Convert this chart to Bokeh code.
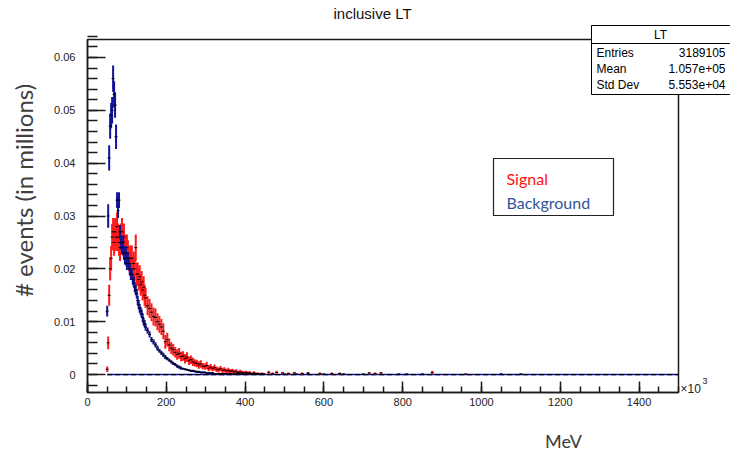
import math
import numpy as np
from bokeh.plotting import figure
from bokeh.models import (Range1d, FixedTicker, CustomJSTickFormatter, Label,
                          BoxAnnotation, ColumnDataSource, LinearAxis)
from bokeh.embed import file_html
from bokeh.resources import INLINE

# ---------------- data (x in units of 10^3 MeV) ----------------
fine_x = np.arange(50.0, 150.0, 2.5)      # 40 bin centres
coarse_x = np.arange(152.5, 450.0, 5.0)   # 60 bin centres

signal_fine = [0.001, 0.006, 0.015, 0.020, 0.022, 0.026, 0.027, 0.025, 0.027, 0.026,
               0.028, 0.026, 0.025, 0.024, 0.026, 0.027, 0.025, 0.026, 0.024, 0.023,
               0.024, 0.023, 0.022, 0.021, 0.022, 0.022, 0.020, 0.021, 0.020, 0.024,
               0.019, 0.019, 0.018, 0.0185, 0.017, 0.0175, 0.016, 0.0165, 0.015, 0.0145]
signal_fine_err = [0.0005, 0.0012, 0.0020, 0.0022, 0.0023, 0.0025, 0.0026, 0.0025, 0.0026, 0.0026,
                   0.0027, 0.0026, 0.0025, 0.0025, 0.0026, 0.0026, 0.0025, 0.0026, 0.0025, 0.0024,
                   0.0025, 0.0024, 0.0024, 0.0023, 0.0024, 0.0024, 0.0023, 0.0023, 0.0023, 0.0025,
                   0.0022, 0.0022, 0.0021, 0.0022, 0.0021, 0.0021, 0.0020, 0.0021, 0.0020, 0.0019]
signal_coarse = [0.0130, 0.0125, 0.0118, 0.0110, 0.0108, 0.0100, 0.0095, 0.0090, 0.0082, 0.0062,
                 0.0066, 0.0056, 0.0050, 0.0047, 0.0042, 0.0038, 0.0040, 0.0034, 0.0035, 0.0030,
                 0.0033, 0.0026, 0.0028, 0.0024, 0.0022, 0.0021, 0.0018, 0.0020, 0.0016, 0.0015,
                 0.0017, 0.0012, 0.0014, 0.0011, 0.0013, 0.0010, 0.0009, 0.0011, 0.0008, 0.0009,
                 0.0007, 0.0008, 0.0006, 0.0007, 0.0005, 0.0006, 0.0004, 0.0005, 0.0004, 0.0003,
                 0.0004, 0.0003, 0.0003, 0.0002, 0.0003, 0.0002, 0.0002, 0.0001, 0.0002, 0.0001]
signal_coarse_err = [0.0018, 0.0018, 0.0017, 0.0017, 0.0017, 0.0016, 0.0016, 0.0015, 0.0015, 0.0013,
                     0.0013, 0.0012, 0.0011, 0.0011, 0.0010, 0.0010, 0.0010, 0.0009, 0.0009, 0.0009,
                     0.0009, 0.0008, 0.0008, 0.0008, 0.0007, 0.0007, 0.0007, 0.0007, 0.0006, 0.0006,
                     0.0007, 0.0006, 0.0006, 0.0005, 0.0006, 0.0005, 0.0005, 0.0005, 0.0005, 0.0005,
                     0.0004, 0.0005, 0.0004, 0.0004, 0.0004, 0.0004, 0.0003, 0.0004, 0.0003, 0.0003,
                     0.0003, 0.0003, 0.0003, 0.0002, 0.0003, 0.0002, 0.0002, 0.0002, 0.0002, 0.0002]

background_fine = [0.012, 0.030, 0.041, 0.047, 0.049, 0.050, 0.056, 0.053, 0.051, 0.045,
                   0.033, 0.031, 0.033, 0.027, 0.025, 0.024, 0.025, 0.023, 0.022, 0.023,
                   0.021, 0.022, 0.021, 0.020, 0.019, 0.019, 0.018, 0.0175, 0.0165, 0.016,
                   0.0153, 0.014, 0.0132, 0.0125, 0.012, 0.0115, 0.0108, 0.010, 0.0096, 0.009]
background_fine_err = [0.0010, 0.0022, 0.0024, 0.0024, 0.0024, 0.0025, 0.0025, 0.0025, 0.0024, 0.0023,
                       0.0015, 0.0014, 0.0015, 0.0013, 0.0013, 0.0013, 0.0013, 0.0013, 0.0012, 0.0013,
                       0.0012, 0.0012, 0.0012, 0.0011, 0.0011, 0.0011, 0.0010, 0.0010, 0.0010, 0.0010,
                       0.0009, 0.0009, 0.0009, 0.0008, 0.0008, 0.0008, 0.0008, 0.0007, 0.0007, 0.0007]
background_coarse = [0.0083, 0.0076, 0.0066, 0.0062, 0.0056, 0.0050, 0.0045, 0.0041, 0.0037, 0.0033,
                     0.0030, 0.0027, 0.0024, 0.0021, 0.0019, 0.0016, 0.0014, 0.0012, 0.0011, 0.0010,
                     0.0009, 0.0008, 0.0007, 0.0007, 0.0006, 0.0005, 0.0005, 0.0004, 0.0004, 0.0004,
                     0.0003, 0.0003, 0.0003, 0.0003, 0.0002, 0.0002, 0.0002, 0.0002, 0.0002, 0.0002,
                     0.0002, 0.0001, 0.0002, 0.0001, 0.0001, 0.0001, 0.0002, 0.0001, 0.0001, 0.0001,
                     0.0001, 0.0001, 0.0001, 0.0001, 0.0001, 0.0000, 0.0001, 0.0001, 0.0000, 0.0001]
background_coarse_err = [0.0006, 0.0006, 0.0005, 0.0005, 0.0005, 0.0005, 0.0004, 0.0004, 0.0004, 0.0004,
                         0.0003, 0.0003, 0.0003, 0.0003, 0.0003, 0.0003, 0.0003, 0.0003, 0.0002, 0.0002,
                         0.0002, 0.0002, 0.0002, 0.0002, 0.0002, 0.0002, 0.0002, 0.0002, 0.0002, 0.0002,
                         0.0002, 0.0002, 0.0002, 0.0002, 0.0001, 0.0001, 0.0001, 0.0001, 0.0001, 0.0001,
                         0.0001, 0.0001, 0.0001, 0.0001, 0.0001, 0.0001, 0.0001, 0.0001, 0.0001, 0.0001,
                         0.0001, 0.0001, 0.0001, 0.0001, 0.0001, 0.0001, 0.0001, 0.0001, 0.0001, 0.0001]

signal_tail_x = [460, 470, 480, 495, 510, 525, 545, 560, 590, 620, 640, 715, 730, 745, 875, 960]
signal_tail = [0.0004, 0.0002, 0.0004, 0.0003, 0.0002, 0.0003, 0.0002, 0.0003,
               0.0002, 0.0002, 0.0002, 0.0003, 0.0002, 0.0003, 0.0004, 0.0001]
signal_tail_err = [0.0003, 0.0002, 0.0003, 0.0002, 0.0002, 0.0002, 0.0002, 0.0002,
                   0.0002, 0.0002, 0.0002, 0.0002, 0.0002, 0.0002, 0.0003, 0.0001]
background_tail_x = [470, 500, 530, 560, 600, 650, 700, 790, 810, 850, 1050, 1100]
background_tail = [0.0001, 0.0001, 0.0001, 0.0001, 0.0001, 0.0001, 0.0001, 0.0001,
                   0.0001, 0.0001, 0.0001, 0.0001]
background_tail_err = [0.0001, 0.0001, 0.0001, 0.0001, 0.0001, 0.0001, 0.0001, 0.0001,
                       0.0001, 0.0001, 0.0001, 0.0001]
hist_range = [50, 1500]

x_ticks = [0, 200, 400, 600, 800, 1000, 1200, 1400]
x_minor = list(range(0, 1501, 50))
y_ticks = [0.0, 0.01, 0.02, 0.03, 0.04, 0.05, 0.06]
y_minor = [round(-0.002 + 0.002 * i, 3) for i in range(34)]

stats_title = "LT"
stats_rows = [("Entries", "3189105"), ("Mean", "1.057e+05"), ("Std Dev", "5.553e+04")]
legend_entries = [("Signal", "#ff1111"), ("Background", "#2f5597")]

RED = "#ff1a1a"
BLUE = "#12129a"

# ---------------- geometry ----------------
W, H = 730, 455
XMIN, XMAX = 0.0, 1500.0          # axis frame range
YMIN, YMAX = -0.0034, 0.0634
FL, FR, FT, FB = 87.0, 678.0, 39.0, 392.0   # frame in canvas pixels
SX = (XMAX - XMIN) / (FR - FL)
SY = (YMAX - YMIN) / (FB - FT)

def dx(px):
    return XMIN + (px - FL) * SX

def dy(py):
    return YMIN + (FB - py) * SY

p = figure(width=W, height=H, x_range=Range1d(dx(0), dx(W)), y_range=Range1d(dy(H), dy(0)),
           output_backend="svg", toolbar_location=None, title=None,
           x_axis_location=None, y_axis_location=None, min_border=0,
           min_border_left=0, min_border_right=0, min_border_top=0, min_border_bottom=0)
p.background_fill_color = "white"
p.border_fill_color = "white"
p.outline_line_color = None
p.xgrid.visible = False
p.ygrid.visible = False

# frame rectangle
p.add_layout(BoxAnnotation(left=XMIN, right=XMAX, bottom=YMIN, top=YMAX, fill_color=None,
                           fill_alpha=0, line_color="#1a1a1a", line_alpha=1, line_width=1.5,
                           level="underlay"))

xaxis = LinearAxis(fixed_location=YMIN, bounds=(XMIN, XMAX),
                   ticker=FixedTicker(ticks=x_ticks, minor_ticks=x_minor))
yaxis = LinearAxis(fixed_location=XMIN, bounds=(YMIN, YMAX),
                   ticker=FixedTicker(ticks=y_ticks, minor_ticks=y_minor))
for ax in (xaxis, yaxis):
    ax.axis_line_color = "#1a1a1a"
    ax.axis_line_width = 1.5
    ax.major_tick_line_color = "#1a1a1a"
    ax.minor_tick_line_color = "#1a1a1a"
    ax.major_tick_line_width = 1.5
    ax.minor_tick_line_width = 1.5
    ax.major_tick_out = 0
    ax.minor_tick_out = 0
    ax.major_label_text_font = "Liberation Sans"
    ax.major_label_text_font_size = "11px"
    ax.major_label_text_color = "#222222"
xaxis.major_tick_in = 11
xaxis.minor_tick_in = 6
xaxis.major_label_standoff = 5
yaxis.major_tick_in = 18
yaxis.minor_tick_in = 10
yaxis.major_label_standoff = 12
yaxis.formatter = CustomJSTickFormatter(code="return Math.abs(tick) < 1e-9 ? '0' : tick.toFixed(2);")
p.add_layout(xaxis, "below")
p.add_layout(yaxis, "left")

# zero baseline of histogram
p.segment(x0=[hist_range[0]], y0=[0], x1=[hist_range[1]], y1=[0], line_color=BLUE, line_width=1.5)
p.segment(x0=[hist_range[0]], y0=[0], x1=[hist_range[1]], y1=[0], line_color="black",
          line_width=1.2, line_dash="5 3")

def draw(xs, vs, es, color):
    xs = np.asarray(xs, dtype=float)
    vs = np.asarray(vs, dtype=float)
    es = np.asarray(es, dtype=float)
    src = ColumnDataSource(dict(x=xs, v=vs, lo=vs - es, hi=vs + es))
    p.segment(x0="x", y0="lo", x1="x", y1="hi", source=src, line_color=color, line_width=2)
    p.scatter(x="x", y="v", source=src, marker="dash", size=3, line_color="black", line_width=1)

draw(list(fine_x) + list(coarse_x) + signal_tail_x,
     signal_fine + signal_coarse + signal_tail,
     signal_fine_err + signal_coarse_err + signal_tail_err, RED)
draw(list(fine_x) + list(coarse_x) + background_tail_x,
     background_fine + background_coarse + background_tail,
     background_fine_err + background_coarse_err + background_tail_err, BLUE)

# title and axis titles
p.add_layout(Label(x=dx(372), y=dy(13), text="inclusive LT", text_align="center",
                   text_baseline="middle", text_font="Liberation Sans", text_font_size="15px",
                   text_color="#111111"))
p.add_layout(Label(x=dx(23), y=dy(190), text="# events (in millions)", angle=math.pi / 2,
                   text_align="center", text_baseline="middle", text_font="Lato",
                   text_font_size="24px", text_color="#404040"))
p.add_layout(Label(x=dx(563), y=dy(440), text="MeV", text_align="center",
                   text_baseline="middle", text_font="Lato", text_font_size="18px",
                   text_color="#3a3a3a"))
p.add_layout(Label(x=dx(680), y=dy(388), text="\u00d710", text_align="left",
                   text_baseline="middle", text_font="Liberation Sans", text_font_size="12px",
                   text_color="#222222"))
p.add_layout(Label(x=dx(702), y=dy(380), text="3", text_align="left",
                   text_baseline="middle", text_font="Liberation Sans", text_font_size="9px",
                   text_color="#222222"))

# stats box
p.add_layout(BoxAnnotation(left=dx(591), right=dx(735), top=dy(25), bottom=dy(94),
                           fill_color="white", fill_alpha=1, line_color="black", line_alpha=1,
                           line_width=1, level="annotation"))
p.add_layout(BoxAnnotation(left=dx(591), right=dx(735), top=dy(25), bottom=dy(43),
                           fill_color="white", fill_alpha=1, line_color="black", line_alpha=1,
                           line_width=1, level="annotation"))
p.add_layout(Label(x=dx(660), y=dy(34), text=stats_title, text_align="center",
                   text_baseline="middle", text_font="Liberation Sans", text_font_size="12px",
                   text_color="black"))
for i, (k, v) in enumerate(stats_rows):
    yy = dy(52 + i * 16)
    p.add_layout(Label(x=dx(596), y=yy, text=k, text_align="left", text_baseline="middle",
                       text_font="Liberation Sans", text_font_size="12px", text_color="black"))
    p.add_layout(Label(x=dx(725), y=yy, text=v, text_align="right", text_baseline="middle",
                       text_font="Liberation Sans", text_font_size="12px", text_color="black"))

# legend box
p.add_layout(BoxAnnotation(left=dx(493), right=dx(613), top=dy(158), bottom=dy(215),
                           fill_color="white", fill_alpha=1, line_color="#222222", line_alpha=1,
                           line_width=1.2, level="annotation"))
for i, (name, col) in enumerate(legend_entries):
    p.add_layout(Label(x=dx(506), y=dy(178 + i * 24), text=name, text_align="left",
                       text_baseline="middle", text_font="Lato", text_font_size="16px",
                       text_color=col))

open("out.html", "w").write(file_html(p, INLINE))
